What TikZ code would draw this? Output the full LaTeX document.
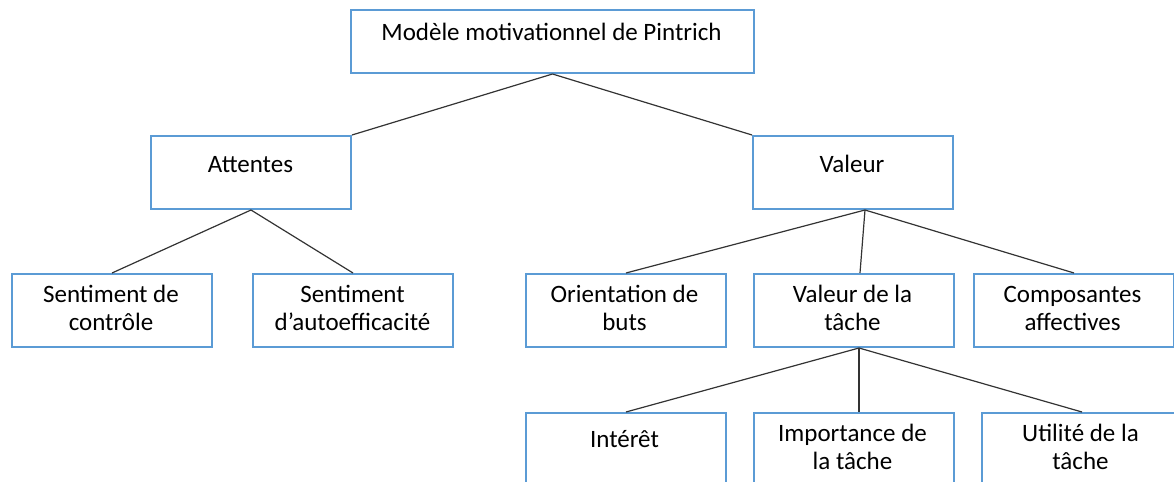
\documentclass[tikz,border=0pt]{standalone}
\usepackage{fontspec}
\setmainfont{Carlito}
\definecolor{boxblue}{RGB}{91,155,213}

\begin{document}
\begin{tikzpicture}[x=0.5pt,y=-0.5pt,
			box node/.style={draw=boxblue,line width=1pt,minimum width=100pt,minimum height=36.5pt,inner sep=0pt,anchor=north west},
			label node/.style={anchor=base,align=center,inner sep=0pt,font=\fontsize{12.5}{14}\selectfont},
			link/.style={draw=black!80,line width=0.6pt}
			]
			
			\useasboundingbox (0,0) rectangle (1174,482);
			\clip (0,0) rectangle (1174,482);
			
			% boxes
			\node[box node,minimum width=201.5pt,minimum height=31.5pt] (modele) at (350,9) {};
			\node[box node] (att) at (150,135) {};
			\node[box node] (val) at (752,135) {};
			\node[box node] (sdc) at (11,273) {};
			\node[box node] (sda) at (252,273) {};
			\node[box node] (ori) at (525,273) {};
			\node[box node] (vdt) at (753,273) {};
			\node[box node] (comp) at (973,273) {};
			\node[box node,minimum height=50pt] (int) at (525,412) {};
			\node[box node,minimum height=50pt] (imp) at (753,412) {};
			\node[box node,minimum height=50pt] (uti) at (981,412) {};
			
			% texts (base = last line)
			\node[label node] (modele-t) at (551.5,40) {Modèle motivationnel de Pintrich};
			\node[label node] (att-t) at (250.5,172) {Attentes};
			\node[label node] (val-t) at (852,172) {Valeur};
			\node[label node] (sdc-t) at (111,330) {Sentiment de\\contrôle};
			\node[label node] (sda-t) at (352.5,330) {Sentiment\\d’autoefficacité};
			\node[label node] (ori-t) at (624.5,330) {Orientation de\\buts};
			\node[label node] (vdt-t) at (852.5,330) {Valeur de la\\tâche};
			\node[label node] (comp-t) at (1072.5,330) {Composantes\\affectives};
			\node[label node] (int-t) at (624.5,447) {Intérêt};
			\node[label node] (imp-t) at (852.5,469) {Importance de\\la tâche};
			\node[label node] (uti-t) at (1080.5,469) {Utilité de la\\tâche};
			
			% connectors
			\draw[link] (modele.south) -- (att.north east);
			\draw[link] (modele.south) -- (val.north west);
			\foreach \c in {sdc,sda}
				\draw[link] (att.south) -- (\c.north);
			\draw[link] ([xshift=6pt]val.south) -- (ori.north);
			\draw[link] ([xshift=6pt]val.south) -- ([xshift=3pt]vdt.north);
			\draw[link] ([xshift=6pt]val.south) -- (comp.north);
			\draw[link] ([xshift=2.5pt]vdt.south) -- (int.north);
			\draw[link] ([xshift=2.5pt]vdt.south) -- ([xshift=2.5pt]imp.north);
			\draw[link] ([xshift=2.5pt]vdt.south) -- (uti.north);
			\end{tikzpicture}
\end{document}
